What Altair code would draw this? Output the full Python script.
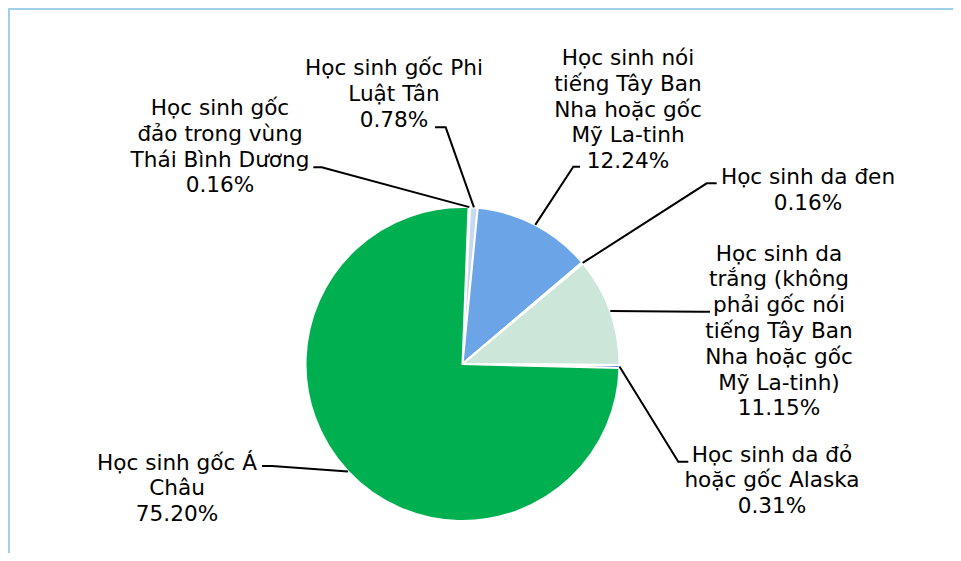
import altair as alt
import pandas as pd
import numpy as np

# ---------------- data ----------------
categories = [
    "Học sinh gốc đảo trong vùng Thái Bình Dương",
    "Học sinh gốc Phi Luật Tân",
    "Học sinh nói tiếng Tây Ban Nha hoặc gốc Mỹ La-tinh",
    "Học sinh da đen",
    "Học sinh da trắng (không phải gốc nói tiếng Tây Ban Nha hoặc gốc Mỹ La-tinh)",
    "Học sinh da đỏ hoặc gốc Alaska",
    "Học sinh gốc Á Châu",
]
percent = [0.16, 0.78, 12.24, 0.16, 11.15, 0.31, 75.20]
label_lines = [
    ["Học sinh gốc", "đảo trong vùng", "Thái Bình Dương"],
    ["Học sinh gốc Phi", "Luật Tân"],
    ["Học sinh nói", "tiếng Tây Ban", "Nha hoặc gốc", "Mỹ La-tinh"],
    ["Học sinh da đen"],
    ["Học sinh da", "trắng (không", "phải gốc nói", "tiếng Tây Ban", "Nha hoặc gốc", "Mỹ La-tinh)"],
    ["Học sinh da đỏ", "hoặc gốc Alaska"],
    ["Học sinh gốc Á", "Châu"],
]

# ---------------- styles / layout ----------------
colors = ["#DCE6F2", "#C6D9F1", "#6CA4E8", "#E4ECF6", "#CCE6DA", "#4472C4", "#00B050"]
W, H = 945, 545
CX, CY, R = 454.5, 356.0, 157.0
START_DEG = 2.2
FONT = "DejaVu Sans"
FS = 21.6
LH = 25.8
# label anchors (centre x, first baseline y) in chart pixels
label_pos = [(212, 107), (386, 67), (620, 57), (800, 176), (771, 252.7), (764, 453.7), (169, 461.5)]
# leader lines: (elbow, end) in chart pixels
leader = [
    ((313.7, 159.3), (305.3, 159.3)),
    ((437.7, 119.3), (427.0, 119.3)),
    ((565.3, 158.7), (572.0, 158.7)),
    ((698.7, 175.3), (708.7, 175.3)),
    ((692.0, 303.7), (702.0, 303.7)),
    ((670.3, 453.7), (680.3, 453.7)),
    ((264.0, 458.0), (254.0, 458.0)),
]

total = float(sum(percent))
start = np.deg2rad(START_DEG)

pie_df = pd.DataFrame({"cat": categories, "value": percent, "idx": list(range(len(categories)))})

# slice mid points on the rim (derived from the values)
cum = np.cumsum([0] + percent)
rows = []
for i in range(len(categories)):
    mid = start + 2 * np.pi * (cum[i] + percent[i] / 2) / total
    px = CX + R * np.sin(mid)
    py = CY - R * np.cos(mid)
    (ex, ey), (tx, ty) = leader[i]
    rows += [
        {"id": i, "o": 0, "px": px, "py": py},
        {"id": i, "o": 1, "px": ex, "py": ey},
        {"id": i, "o": 2, "px": tx, "py": ty},
    ]
lead_df = pd.DataFrame(rows)

lab_df = pd.DataFrame({
    "txt": ["\n".join(l + [f"{p:.2f}%"]) for l, p in zip(label_lines, percent)],
    "lx": [p[0] for p in label_pos],
    "ly": [p[1] for p in label_pos],
})

pie = alt.Chart(pie_df).mark_arc(radius=R, stroke="white", strokeWidth=2).encode(
    theta=alt.Theta("value:Q", stack=True,
                    scale=alt.Scale(domain=[0, total], range=[start, start + 2 * np.pi])),
    color=alt.Color("cat:N", scale=alt.Scale(domain=categories, range=colors), legend=None),
    order=alt.Order("idx:Q"),
    x=alt.value(CX),
    y=alt.value(CY),
)

lines = alt.Chart(lead_df).mark_line(color="black", strokeWidth=2).encode(
    x=alt.X("px:Q", scale=None),
    y=alt.Y("py:Q", scale=None),
    detail="id:N",
    order="o:Q",
)

labels = alt.Chart(lab_df).mark_text(
    font=FONT, fontSize=FS, lineHeight=LH, align="center", baseline="alphabetic",
    color="#000000", lineBreak="\n",
).encode(
    x=alt.X("lx:Q", scale=None),
    y=alt.Y("ly:Q", scale=None),
    text="txt:N",
)

border_top = alt.Chart(pie_df).mark_rule(color="#9FCFEA", strokeWidth=2).encode(
    x=alt.value(0), x2=alt.value(W), y=alt.value(1)
)
border_left = alt.Chart(pie_df).mark_rule(color="#9FCFEA", strokeWidth=2).encode(
    x=alt.value(1), y=alt.value(0), y2=alt.value(H)
)

chart = alt.layer(border_top, border_left, pie, lines, labels).properties(
    width=W, height=H, padding=0,
    autosize=alt.AutoSizeParams(type="none"),
).configure_view(stroke=None)

chart.save("out.html", embed_options={"renderer": "svg", "actions": False})
